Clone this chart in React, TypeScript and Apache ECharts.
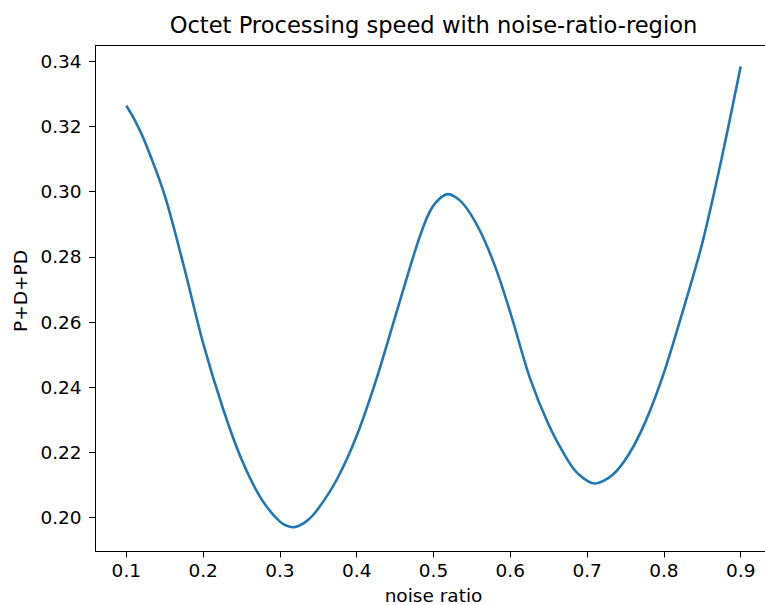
import React, { useEffect, useRef } from "react";
import * as echarts from "echarts";

const noiseRatio = [
  0.1, 0.111, 0.125, 0.15, 0.175, 0.2, 0.225, 0.25, 0.275, 0.3, 0.317, 0.334,
  0.35, 0.375, 0.4, 0.425, 0.45, 0.482, 0.499, 0.519, 0.538, 0.56, 0.582,
  0.603, 0.625, 0.65, 0.675, 0.69, 0.71, 0.733, 0.755, 0.777, 0.8, 0.825,
  0.85, 0.875, 0.9,
];
const pdpd = [
  0.3263, 0.3219, 0.3148, 0.2988, 0.277, 0.2535, 0.2341, 0.2179, 0.2061,
  0.1988, 0.1971, 0.1988, 0.2028, 0.2121, 0.2251, 0.242, 0.2615, 0.2861,
  0.2954, 0.2992, 0.2964, 0.2882, 0.2759, 0.2606, 0.2432, 0.2285, 0.2176,
  0.2131, 0.2105, 0.2131, 0.2197, 0.23, 0.2444, 0.2636, 0.2842, 0.3099,
  0.3383,
];
const xTicks = [0.1, 0.2, 0.3, 0.4, 0.5, 0.6, 0.7, 0.8, 0.9];
const yTicks = [0.2, 0.22, 0.24, 0.26, 0.28, 0.3, 0.32, 0.34];

const FONT = "DejaVu Sans";

export default function App() {
  const ref = useRef<HTMLDivElement>(null);
  useEffect(() => {
    if (!ref.current) return;
    const chart = echarts.init(ref.current, null, { renderer: "svg" });
    const spine = { show: true, lineStyle: { color: "#000", width: 1 } };
    chart.setOption({
      animation: false,
      backgroundColor: "#fff",
      title: {
        text: "Octet Processing speed with noise-ratio-region",
        left: 433.5,
        textAlign: "center",
        top: 13,
        padding: 0,
        textStyle: {
          fontFamily: FONT,
          fontSize: 22.6,
          fontWeight: "normal",
          color: "#000",
        },
      },
      graphic: [
        {
          type: "text",
          x: 20,
          y: 291,
          rotation: Math.PI / 2,
          style: {
            text: "P+D+PD",
            fontFamily: FONT,
            fontSize: 18.5,
            fill: "#000",
            align: "center",
            verticalAlign: "middle",
          },
        },
        {
          type: "rect",
          z: 100,
          shape: { x: 756, y: 50, width: 12, height: 496 },
          style: { fill: "#fff" },
        },
      ],
      grid: {
        left: 95.6,
        right: -6.4,
        top: 45.7,
        bottom: 54,
        outerBoundsMode: "none",
        containLabel: false,
        show: false,
      },
      xAxis: [
        {
          type: "value",
          min: 0.06,
          max: 0.94,
          position: "bottom",
          axisLine: spine,
          splitLine: { show: false },
          name: "noise ratio",
          nameLocation: "middle",
          nameGap: 35,
          nameTextStyle: { fontFamily: FONT, fontSize: 18.5, color: "#000" },
          axisTick: {
            show: true,
            length: 6.5,
            customValues: xTicks,
            lineStyle: { color: "#000", width: 1 },
          },
          axisLabel: {
            customValues: xTicks,
            margin: 10,
            fontFamily: FONT,
            fontSize: 18.5,
            color: "#000",
            formatter: (v: number) => v.toFixed(1),
          },
        },
        {
          type: "value",
          min: 0.06,
          max: 0.94,
          position: "top",
          axisLine: spine,
          splitLine: { show: false },
          axisTick: { show: false },
          axisLabel: { show: false },
        },
      ],
      yAxis: {
        type: "value",
        min: 0.1898,
        max: 0.3447,
        axisLine: spine,
        splitLine: { show: false },
        axisTick: {
          show: true,
          length: 6.5,
          customValues: yTicks,
          lineStyle: { color: "#000", width: 1 },
        },
        axisLabel: {
          customValues: yTicks,
          margin: 14,
          fontFamily: FONT,
          fontSize: 18.5,
          color: "#000",
          formatter: (v: number) => v.toFixed(2),
        },
      },
      series: [
        {
          type: "line",
          xAxisIndex: 0,
          data: noiseRatio.map((x, i) => [x, pdpd[i]]),
          smooth: 0.3,
          showSymbol: false,
          lineStyle: { color: "#1f77b4", width: 2.6 },
        },
      ],
    });
    return () => chart.dispose();
  }, []);
  return (
    <div
      ref={ref}
      style={{ position: "absolute", left: 0, top: 0, width: 765, height: 605 }}
    />
  );
}
